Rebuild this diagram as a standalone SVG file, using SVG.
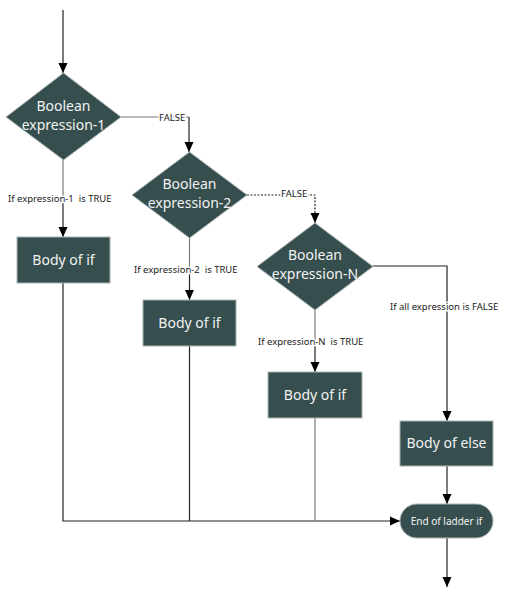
<svg xmlns="http://www.w3.org/2000/svg" width="508" height="600" viewBox="0 0 508 600">
<style>
.n{fill:#364e4e;stroke:#a9b3b3;stroke-width:1}
.t{font-family:"Noto Sans","Open Sans",sans-serif;fill:#f2f2f2;text-anchor:middle}
.big{font-size:14px}
.lbl{font-family:"Noto Sans","Open Sans",sans-serif;font-size:9.5px;fill:#1a1a1a;paint-order:stroke;stroke:#fff;stroke-width:3px;stroke-linejoin:round;white-space:pre}
.c{fill:none;stroke:#222;stroke-width:1.2}
.g{stroke:#7a7a7a}
</style>
<defs>
<marker id="ah" markerUnits="userSpaceOnUse" markerWidth="10" markerHeight="10" refX="10" refY="5" orient="auto">
<path d="M0,0.5 L10,5 L0,9.5 z" fill="#000"/>
</marker>
</defs>
<rect width="508" height="600" fill="#fff"/>
<g id="connectors">
<path class="c" d="M63,10 V73" marker-end="url(#ah)"/>
<path class="c g" d="M121,117 H189"/>
<path class="c" d="M189,117 V152" marker-end="url(#ah)"/>
<path class="c g" d="M63,160 V200"/>
<path class="c" d="M63,200 V237" marker-end="url(#ah)"/>
<path class="c g" d="M189.5,238 V270"/>
<path class="c" d="M189.5,270 V300" marker-end="url(#ah)"/>
<path class="c" d="M247,195 H315 V223" stroke-dasharray="2,1.5" marker-end="url(#ah)"/>
<path class="c g" d="M315,310 V342"/>
<path class="c" d="M315,342 V372" marker-end="url(#ah)"/>
<path class="c" d="M373,266 H447 V421" marker-end="url(#ah)"/>
<path class="c" d="M63,283 V521 H189.5"/>
<path class="c" d="M189.5,521 H400" marker-end="url(#ah)"/>
<path class="c" d="M189.5,346 V521"/>
<path class="c g" d="M315,418 V521"/>
<path class="c" d="M447,466 V504" marker-end="url(#ah)"/>
<path class="c" d="M447,538 V587" marker-end="url(#ah)"/>
<text class="lbl" x="159" y="121">FALSE</text>
<text class="lbl" x="8" y="202" xml:space="preserve">If expression-1  is TRUE</text>
<text class="lbl" x="134" y="273" xml:space="preserve">If expression-2  is TRUE</text>
<text class="lbl" x="281" y="197">FALSE</text>
<text class="lbl" x="258" y="345" xml:space="preserve">If expression-N  is TRUE</text>
<text class="lbl" x="390" y="310">If all expression is FALSE</text>
</g>
<g id="decision1">
<polygon class="n" points="63.5,73 121,117 63.5,160 6,117"/>
<text class="t big" x="63.5" y="111">Boolean</text>
<text class="t big" x="63.5" y="130">expression-1</text>
</g>
<g id="body1">
<rect class="n" x="17" y="237" width="93" height="46"/>
<text class="t big" x="63.5" y="265">Body of if</text>
</g>
<g id="decision2">
<polygon class="n" points="189.5,152 247,195 189.5,238 132,195"/>
<text class="t big" x="189.5" y="189">Boolean</text>
<text class="t big" x="189.5" y="208">expression-2</text>
</g>
<g id="body2">
<rect class="n" x="143" y="300" width="93" height="46"/>
<text class="t big" x="189.5" y="328">Body of if</text>
</g>
<g id="decisionN">
<polygon class="n" points="315,223 373,266.5 315,310 257,266.5"/>
<text class="t big" x="315" y="260">Boolean</text>
<text class="t big" x="315" y="279">expression-N</text>
</g>
<g id="bodyN">
<rect class="n" x="268" y="372" width="94" height="46"/>
<text class="t big" x="315" y="400">Body of if</text>
</g>
<g id="bodyElse">
<rect class="n" x="400" y="421" width="93" height="45"/>
<text class="t big" x="446.5" y="448">Body of else</text>
</g>
<g id="end">
<rect class="n" x="400" y="504" width="93" height="34" rx="17" ry="17"/>
<text class="t" x="446.5" y="525" font-size="10">End of ladder if</text>
</g>
</svg>
